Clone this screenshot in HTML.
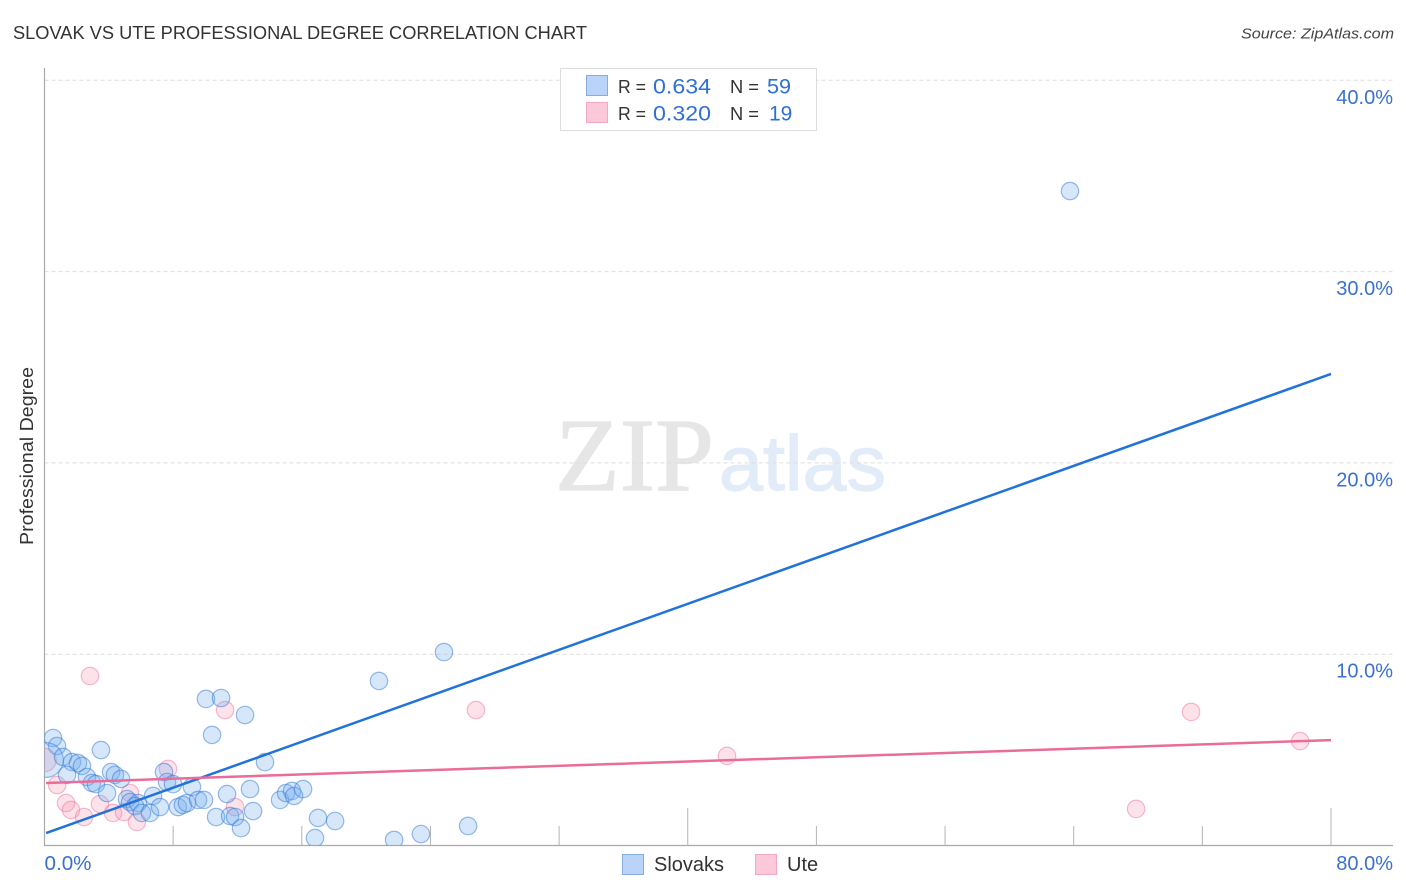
<!DOCTYPE html>
<html lang="en">
<head>
<meta charset="utf-8">
<title>Slovak vs Ute Professional Degree Correlation Chart</title>
<style>
html,body{margin:0;padding:0;background:#fff;}
svg{display:block;font-family:"Liberation Sans",sans-serif;}
</style>
</head>
<body>
<svg id="chart" width="1406" height="892" viewBox="0 0 1406 892" xmlns="http://www.w3.org/2000/svg">
  <defs>
    <clipPath id="plot-clip"><rect x="44.5" y="68" width="1349" height="777.5"/></clipPath>
  </defs>
  <rect x="0" y="0" width="1406" height="892" fill="#ffffff"/>
  <text x="13" y="39" font-size="18.5" fill="#333333" textLength="574" lengthAdjust="spacingAndGlyphs">SLOVAK VS UTE PROFESSIONAL DEGREE CORRELATION CHART</text>
  <text x="1394" y="38.5" font-size="15" font-style="italic" fill="#444444" text-anchor="end" textLength="153" lengthAdjust="spacingAndGlyphs">Source: ZipAtlas.com</text>
  <g>
    <text x="555" y="490" font-family="'Liberation Serif',serif" font-size="104" fill="#e6e6e6" stroke="#e6e6e6" stroke-width="1.2" textLength="159" lengthAdjust="spacingAndGlyphs">ZIP</text>
    <text x="719" y="490" font-size="78" fill="#e2ebf8" stroke="#e2ebf8" stroke-width="1.2" textLength="167" lengthAdjust="spacingAndGlyphs">atlas</text>
  </g>
  <g id="grid"></g>
  <g id="axes"></g>
  <g id="points" clip-path="url(#plot-clip)"></g>
  <g id="trends"></g>
  <text transform="translate(33,456) rotate(-90)" font-size="18.5" fill="#333333" text-anchor="middle" textLength="178" lengthAdjust="spacingAndGlyphs">Professional Degree</text>
  <g>
    <rect x="560.5" y="68.5" width="256" height="62" fill="#ffffff" stroke="#dddddd" stroke-width="1"/>
    <rect x="586.5" y="75.5" width="21" height="20" fill="#b9d4f8" stroke="#86aedd" stroke-width="1"/>
    <rect x="586.5" y="102.5" width="21" height="20" fill="#fcc8da" stroke="#f3a9c2" stroke-width="1"/>
    <text x="618" y="93" font-size="18.5" fill="#333333" textLength="28" lengthAdjust="spacingAndGlyphs">R =</text>
    <text x="653" y="93.5" font-size="21" fill="#2f6fd6" textLength="58" lengthAdjust="spacingAndGlyphs">0.634</text>
    <text x="730" y="93" font-size="18.5" fill="#333333" textLength="29" lengthAdjust="spacingAndGlyphs">N =</text>
    <text x="767" y="93.5" font-size="21" fill="#2f6fd6" textLength="24" lengthAdjust="spacingAndGlyphs">59</text>
    <text x="618" y="120" font-size="18.5" fill="#333333" textLength="28" lengthAdjust="spacingAndGlyphs">R =</text>
    <text x="653" y="120.5" font-size="21" fill="#2f6fd6" textLength="58" lengthAdjust="spacingAndGlyphs">0.320</text>
    <text x="730" y="120" font-size="18.5" fill="#333333" textLength="29" lengthAdjust="spacingAndGlyphs">N =</text>
    <text x="769" y="120.5" font-size="21" fill="#2f6fd6">19</text>
  </g>
  <g>
    <rect x="622.5" y="854.5" width="21" height="20" fill="#b9d4f8" stroke="#86aedd" stroke-width="1"/>
    <text x="654" y="871" font-size="20" fill="#333333">Slovaks</text>
    <rect x="755.5" y="854.5" width="21" height="20" fill="#fcc8da" stroke="#f3a9c2" stroke-width="1"/>
    <text x="787" y="871" font-size="20" fill="#333333">Ute</text>
  </g>
</svg>
<script>
const xTickValues = [0, 8, 16, 24, 32, 40, 48, 56, 64, 72, 80];
const xTickLabels = ["0.0%", "80.0%"];
const yTickValues = [10, 20, 30, 40];
const yTickLabels = ["10.0%", "20.0%", "30.0%", "40.0%"];
const slovakX = [63.77,24.84,20.80,10.04,10.98,12.47,10.42,3.51,13.71,0.53,0.78,0.09,1.15,1.71,2.08,2.33,1.40,2.64,2.95,3.20,3.89,4.14,4.38,4.76,5.13,5.32,5.81,5.63,6.06,6.56,6.75,7.18,7.43,7.62,7.99,9.17,8.30,8.61,8.86,9.55,9.92,11.35,12.78,12.97,10.67,11.54,11.85,12.22,14.65,15.02,15.39,15.52,16.08,17.01,16.82,18.07,21.74,23.41,26.34];
const slovakY = [34.21,10.11,8.60,7.66,7.71,6.82,5.78,4.99,4.36,5.62,5.20,4.47,4.63,4.36,4.31,4.16,3.69,3.58,3.27,3.21,2.74,3.84,3.69,3.48,2.43,2.27,2.22,2.06,1.70,1.70,2.59,2.01,3.84,3.32,3.21,3.06,2.01,2.12,2.22,2.38,2.38,2.69,2.95,1.80,1.49,1.54,1.49,0.91,2.38,2.74,2.85,2.59,2.95,1.44,0.39,1.28,0.29,0.60,1.02];
const slovakSize = [1,1,1,1,1,1,1,1,1,1,1,2,1,1,1,1,1,1,1,1,1,1,1,1,1,1,1,1,1,1,1,1,1,1,1,1,1,1,1,1,1,1,1,1,1,1,1,1,1,1,1,1,1,1,1,1,1,1,1];
const uteX = [2.83,11.23,26.83,42.44,71.30,78.08,67.88,7.68,0.00,0.78,1.34,1.65,2.46,3.45,4.26,4.94,5.32,5.75,11.85];
const uteY = [8.86,7.08,7.08,4.68,6.98,5.46,1.91,4.00,4.47,3.16,2.22,1.86,1.49,2.17,1.70,1.75,2.74,1.23,2.01];
const uteSize = [1,1,1,1,1,1,1,1,1.35,1,1,1,1,1,1,1,1,1,1];
const slovakTrendX = [0.1, 80];
const slovakTrendY = [0.65, 24.65];
const uteTrendX = [0.1, 80];
const uteTrendY = [3.27, 5.51];

const NS = 'http://www.w3.org/2000/svg';
const xScale = v => 44.5 + v * (1286.5 / 80);
const yScale = v => 845.5 - v * 19.13;
const BASE_R = 8.7;

function make(tag, attrs, parent) {
  const el = document.createElementNS(NS, tag);
  for (const k in attrs) el.setAttribute(k, attrs[k]);
  parent.appendChild(el);
  return el;
}

const grid = document.getElementById('grid');
const axes = document.getElementById('axes');
const pointsG = document.getElementById('points');
const trends = document.getElementById('trends');

yTickValues.forEach((v, i) => {
  const line = make('line', {x1: 44.5, x2: 1393, y1: yScale(v), y2: yScale(v), stroke: '#dedede', 'stroke-width': 1, 'stroke-dasharray': '4 3'}, grid);
  
  
  const label = make('text', {x: 1393, y: yScale(v) + 23.5, 'font-size': 20, fill: '#3a70d0', 'text-anchor': 'end'}, axes);
  
  
  label.textContent = yTickLabels[i];
});

const yAxis = make('line', {x1: 44.5, x2: 44.5, y1: 68, y2: 846, stroke: '#aaaaaa', 'stroke-width': 1.2}, axes);


const xAxis = make('line', {x1: 44, x2: 1393, y1: 845.5, y2: 845.5, stroke: '#aaaaaa', 'stroke-width': 1.2}, axes);



xTickValues.slice(1).forEach(v => {
  const top = v % 40 === 0 ? 808 : 826;
  const tick = make('line', {x1: xScale(v), x2: xScale(v), y1: top, y2: 845.5, stroke: '#b4b4b4', 'stroke-width': 1}, axes);
  
  
});

const xLabelLeft = make('text', {x: 44.5, y: 870, 'font-size': 20, fill: '#3a70d0', textLength: 47, lengthAdjust: 'spacingAndGlyphs'}, axes);


xLabelLeft.textContent = xTickLabels[0];
const xLabelRight = make('text', {x: 1393, y: 870, 'font-size': 20, fill: '#3a70d0', 'text-anchor': 'end'}, axes);


xLabelRight.textContent = xTickLabels[1];

uteX.forEach((x, i) => {
  const c = make('circle', {cx: xScale(x), cy: yScale(uteY[i]), r: BASE_R * uteSize[i], fill: 'rgba(247,150,180,0.28)', stroke: 'rgba(236,120,160,0.5)', 'stroke-width': 1.2}, pointsG);
  
  
});
slovakX.forEach((x, i) => {
  const c = make('circle', {cx: xScale(x), cy: yScale(slovakY[i]), r: BASE_R * slovakSize[i], fill: 'rgba(120,175,240,0.3)', stroke: 'rgba(50,120,215,0.5)', 'stroke-width': 1.2}, pointsG);
  
  
});

const slovakLine = make('line', {x1: xScale(slovakTrendX[0]), y1: yScale(slovakTrendY[0]), x2: xScale(slovakTrendX[1]), y2: yScale(slovakTrendY[1]), stroke: '#2272dc', 'stroke-width': 2.5}, trends);


const uteLine = make('line', {x1: xScale(uteTrendX[0]), y1: yScale(uteTrendY[0]), x2: xScale(uteTrendX[1]), y2: yScale(uteTrendY[1]), stroke: '#ea6c9a', 'stroke-width': 2.5}, trends);


</script>
</body>
</html>
